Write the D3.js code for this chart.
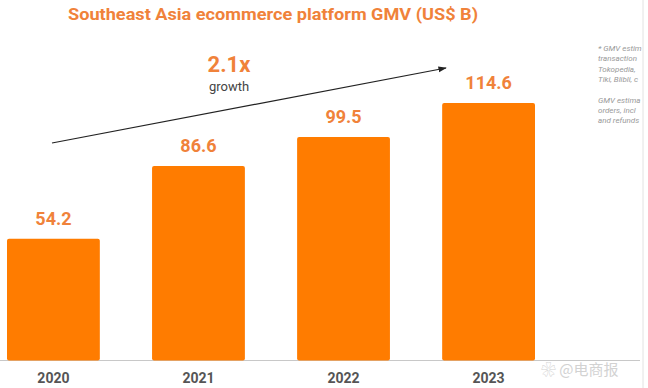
<!DOCTYPE html>
<html>
<head>
<meta charset="utf-8">
<script src="https://cdn.jsdelivr.net/npm/d3@7"></script>
<style>
  body { margin: 0; background: #fff; }
  svg { display: block; }
</style>
</head>
<body>
<svg id="chart" width="648" height="388"></svg>
<script>
const years = ['2020', '2021', '2022', '2023']
const gmv = [54.2, 86.6, 99.5, 114.6]
const title = 'Southeast Asia ecommerce platform GMV (US$ B)'
const growthLabel = '2.1x'
const growthSub = 'growth'
// footnote is cut off by the card edge in the source image
const noteLines = ['* GMV estim', 'transaction', 'Tokopedia,', 'Tiki, Blibli, c', '', 'GMV estima', 'orders, incl', 'and refunds']

const orange = '#ff7c00'
const labelOrange = '#f0823a'
const svg = d3.select('#chart')

svg.append('defs').append('marker')
  .attr('id', 'arrow')
  .attr('viewBox', '0 0 10 10')
  .attr('refX', 9).attr('refY', 5)
  .attr('markerWidth', 7).attr('markerHeight', 7)
  .attr('orient', 'auto')
  .append('path').attr('d', 'M0,1.5 L10,5 L0,8.5 Z').attr('fill', '#222')

let x = d3.scaleBand().domain(years).range([7, 535]).paddingInner(0.36).paddingOuter(0)
let y = d3.scaleLinear().domain([0, 114.6]).range([360.5, 103])

// title
svg.append('text')
  .attr('x', 68).attr('y', 20)
  .attr('font-family', 'Roboto, sans-serif').attr('font-weight', 700).attr('font-size', 17)
  .attr('textLength', 410).attr('lengthAdjust', 'spacingAndGlyphs')
  .attr('fill', labelOrange)
  .text(title)

// baseline
svg.append('line')
  .attr('x1', 0).attr('x2', 640).attr('y1', 360.5).attr('y2', 360.5)
  .attr('stroke', '#c8c8c8').attr('stroke-width', 1)

// bars
svg.selectAll('rect.bar')
  .data(gmv)
  .enter().append('rect')
  .attr('class', 'bar')
  .attr('x', (d, i) => x(years[i]))
  .attr('y', d => y(d))
  .attr('width', x.bandwidth())
  .attr('height', d => y(0) - y(d))
  .attr('rx', 2)
  .attr('fill', orange)

// value labels
svg.selectAll('text.val')
  .data(gmv)
  .enter().append('text')
  .attr('class', 'val')
  .attr('x', (d, i) => x(years[i]) + x.bandwidth() / 2)
  .attr('y', d => y(d) - 14)
  .attr('text-anchor', 'middle')
  .attr('font-family', 'Roboto, sans-serif').attr('font-weight', 700).attr('font-size', 18)
  .attr('fill', labelOrange)
  .text(d => d.toFixed(1))

// year labels
svg.selectAll('text.year')
  .data(years)
  .enter().append('text')
  .attr('class', 'year')
  .attr('x', d => x(d) + x.bandwidth() / 2)
  .attr('y', 383)
  .attr('text-anchor', 'middle')
  .attr('font-family', 'Roboto, sans-serif').attr('font-weight', 700).attr('font-size', 14)
  .attr('fill', '#555')
  .text(d => d)

// growth arrow
svg.append('line')
  .attr('x1', 52).attr('y1', 143).attr('x2', 446).attr('y2', 68)
  .attr('stroke', '#222').attr('stroke-width', 1.2)
  .attr('marker-end', 'url(#arrow)')

svg.append('text')
  .attr('x', 229).attr('y', 72)
  .attr('text-anchor', 'middle')
  .attr('font-family', 'Roboto, sans-serif').attr('font-weight', 700).attr('font-size', 22)
  .attr('fill', labelOrange)
  .text(growthLabel)

svg.append('text')
  .attr('x', 229).attr('y', 91)
  .attr('text-anchor', 'middle')
  .attr('font-family', 'Roboto, sans-serif').attr('font-size', 13)
  .attr('fill', '#444')
  .text(growthSub)

// footnote
svg.selectAll('text.note')
  .data(noteLines)
  .enter().append('text')
  .attr('class', 'note')
  .attr('x', 598)
  .attr('y', (d, i) => 51 + i * 10.3)
  .attr('font-family', 'Roboto, sans-serif').attr('font-style', 'italic').attr('font-size', 8)
  .attr('fill', '#999')
  .text(d => d)

// card edge
svg.append('rect')
  .attr('x', -20).attr('y', -20).attr('width', 663).attr('height', 420).attr('rx', 10)
  .attr('fill', 'none').attr('stroke', '#e2e2e2').attr('stroke-width', 1)

// watermark
svg.append('text')
  .attr('x', 541).attr('y', 375)
  .attr('font-family', '"Noto Sans CJK SC", sans-serif').attr('font-size', 15)
  .attr('fill', '#d2d2d2')
  .text('❀ @电商报')
</script>
</body>
</html>
